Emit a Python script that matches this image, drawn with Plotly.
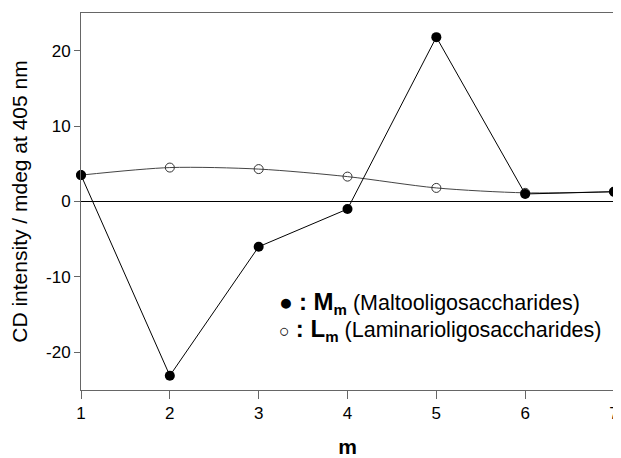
import plotly.graph_objects as go

m_values = [1, 2, 3, 4, 5, 6, 7]
malto = [3.5, -23.1, -6.0, -1.0, 21.8, 1.0, 1.3]
lamina = [3.5, 4.5, 4.3, 3.3, 1.8, 1.15, 1.3]
x_ticks = [1, 2, 3, 4, 5, 6, 7]
y_ticks = [-20, -10, 0, 10, 20]
y_tick_labels = ["-20", "-10", "0", "10", "20"]

FONT = "Liberation Sans, Arial, sans-serif"
AX = "#666"

fig = go.Figure()
fig.add_trace(go.Scatter(
    x=m_values, y=lamina, mode="lines+markers",
    line=dict(color="#444", width=1, shape="spline", smoothing=0.8),
    marker=dict(symbol="circle-open", size=9, color="#333", line=dict(width=1)),
    showlegend=False, cliponaxis=False))
fig.add_trace(go.Scatter(
    x=m_values, y=malto, mode="lines+markers",
    line=dict(color="black", width=1),
    marker=dict(symbol="circle", size=10, color="black"),
    showlegend=False, cliponaxis=False))

fig.add_annotation(x=3.21, y=-13.4, xref="x", yref="y", xanchor="left", yanchor="middle",
                   showarrow=False, font=dict(family=FONT, size=21.5, color="black"),
                   text="<span style='font-size:23px'>●</span> <b><span style='font-size:24px'>: M</span><sub>m</sub></b> (Maltooligosaccharides)")
fig.add_annotation(x=3.21, y=-17.1, xref="x", yref="y", xanchor="left", yanchor="middle",
                   showarrow=False, font=dict(family=FONT, size=21.5, color="black"),
                   text="<span style='font-size:18px'>○</span> <b><span style='font-size:24px'>: L</span><sub>m</sub></b> (Laminarioligosaccharides)")

fig.update_layout(
    width=621, height=458,
    margin=dict(l=73, r=15, t=5, b=76),
    plot_bgcolor="white", paper_bgcolor="white",
    font=dict(family=FONT, size=17, color="black"),
    xaxis=dict(range=[1, 7], tickvals=x_ticks, ticks="outside", ticklen=8, tickcolor=AX,
               showgrid=False, zeroline=False, showline=True, linecolor=AX,
               linewidth=1, mirror=True, automargin=False,
               title=dict(text="<b>m</b>", font=dict(size=21), standoff=16)),
    yaxis=dict(range=[-25, 25], tickvals=y_ticks, ticktext=y_tick_labels,
               ticks="outside", ticklen=6, tickcolor=AX,
               showgrid=False, zeroline=True, zerolinecolor="black", zerolinewidth=1,
               showline=True, linecolor=AX, linewidth=1, mirror=True, automargin=False,
               title=dict(text="CD intensity / mdeg at 405 nm", font=dict(size=21), standoff=17)),
)

fig.write_html("out.html")
